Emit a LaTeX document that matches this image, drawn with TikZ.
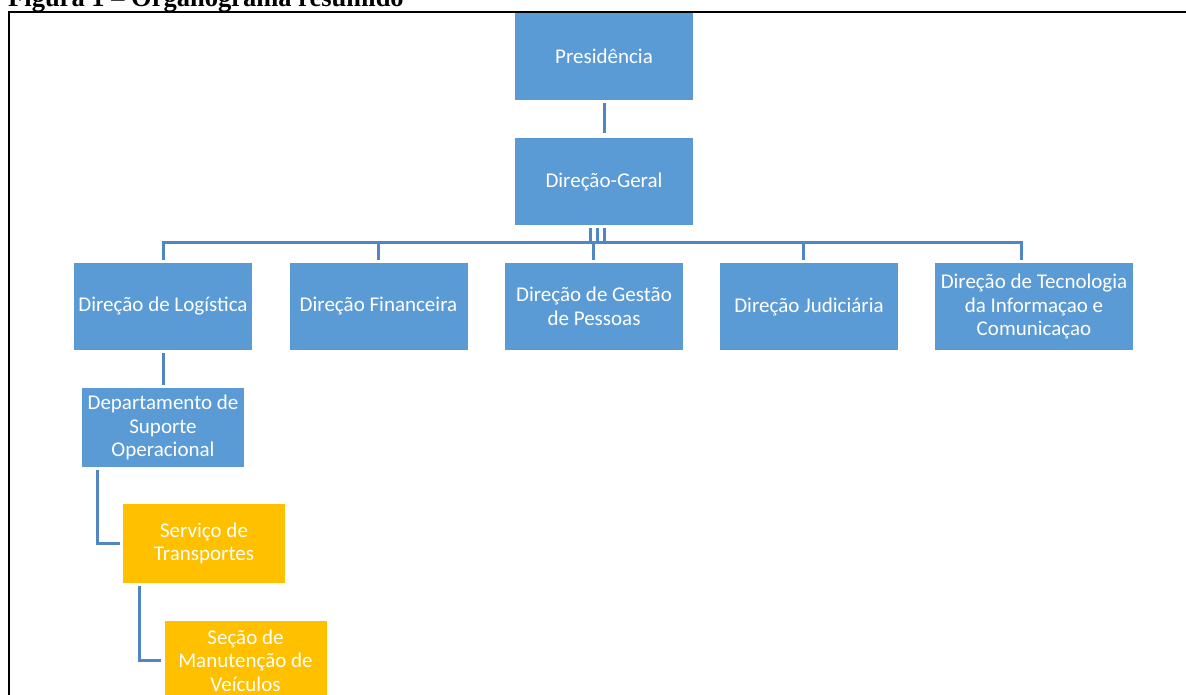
\documentclass[tikz,border=0pt]{standalone}
\usepackage{fontspec}
\usetikzlibrary{calc}
\newfontfamily\boxfont{Carlito}
\newfontfamily\titlefont{Liberation Serif}
\definecolor{orgblue}{HTML}{5B9BD5}
\definecolor{orgyellow}{HTML}{FFC000}
\definecolor{linkblue}{HTML}{4F86C3}
\begin{document}
\begin{tikzpicture}[x=1pt, y=-1pt,
    unit/.style = {fill=orgblue, text=white, align=center, inner sep=2pt,
        font=\boxfont\fontsize{21}{23.5}\selectfont},
    wide/.style = {unit, minimum width=178pt, minimum height=87pt},
    small/.style = {unit, minimum width=162pt, minimum height=79pt},
    servico/.style = {small, fill=orgyellow},
    link/.style = {draw=linkblue, line width=3pt}]
    \useasboundingbox (0,0) rectangle (1186,695);
    \clip (0,0) rectangle (1186,695);
    % title and frame
    \node[anchor=base west, inner sep=0pt, font=\titlefont\bfseries\fontsize{26.5}{30}\selectfont] (titulo) at (8,6.5) {Figura 1 – Organograma resumido};
    \draw[line width=1.6pt] (8.8,12) rectangle (1220,730);
    % boxes
    \node[wide] (pres) at (604,56.5) {Presidência};
    \node[wide] (dg) at (604,181.5) {Direção-Geral};
    \node[wide] (log) at (163,306.5) {Direção de Logística};
    \node[wide] (fin) at (378.5,306.5) {Direção Financeira};
    \node[wide] (gest) at (594,306.5) {Direção de Gestão\\de Pessoas};
    \node[wide] (jud) at (809,306.5) {Direção Judiciária};
    \node[wide, minimum width=198pt] (tec) at (1034,306.5) {Direção de Tecnologia\\da Informaçao e\\Comunicaçao};
    \node[small] (dep) at (163,427.5) {Departamento de\\Suporte\\Operacional};
    \node[servico] (serv) at (204,543.5) {Serviço de\\Transportes};
    \node[servico] (secao) at (245.5,660.5) {Seção de\\Manutenção de\\Veículos};
    % connectors
    \draw[link] ([yshift=-3pt]pres.south) -- ([yshift=5pt]dg.north);
    \draw[link] ([xshift=-14pt,yshift=-3pt]dg.south) |- ($(log.north)+(0,-20)$) -- ([yshift=3pt]log.north);
    \draw[link] ([xshift=-7pt,yshift=-3pt]dg.south) |- ($(fin.north)+(0,-20)$) -- ([yshift=3pt]fin.north);
    \draw[link] ([yshift=-3pt]dg.south) |- ($(gest.north)+(-1,-20)$) -- ([xshift=-1pt,yshift=3pt]gest.north);
    \draw[link] ([yshift=-3pt]dg.south) |- ($(jud.north)+(-6,-20)$) -- ([xshift=-6pt,yshift=3pt]jud.north);
    \draw[link] ([yshift=-3pt]dg.south) |- ($(tec.north)+(-13,-20)$) -- ([xshift=-13pt,yshift=3pt]tec.north);
    \draw[link] ([yshift=-3pt]log.south) -- ([yshift=3pt]dep.north);
    \draw[link] ([xshift=-66pt,yshift=-3pt]dep.south) |- ([xshift=-3pt]serv.west);
    \draw[link] ([xshift=-65pt,yshift=-3pt]serv.south) |- ([xshift=-3pt]secao.west);
\end{tikzpicture}
\end{document}
